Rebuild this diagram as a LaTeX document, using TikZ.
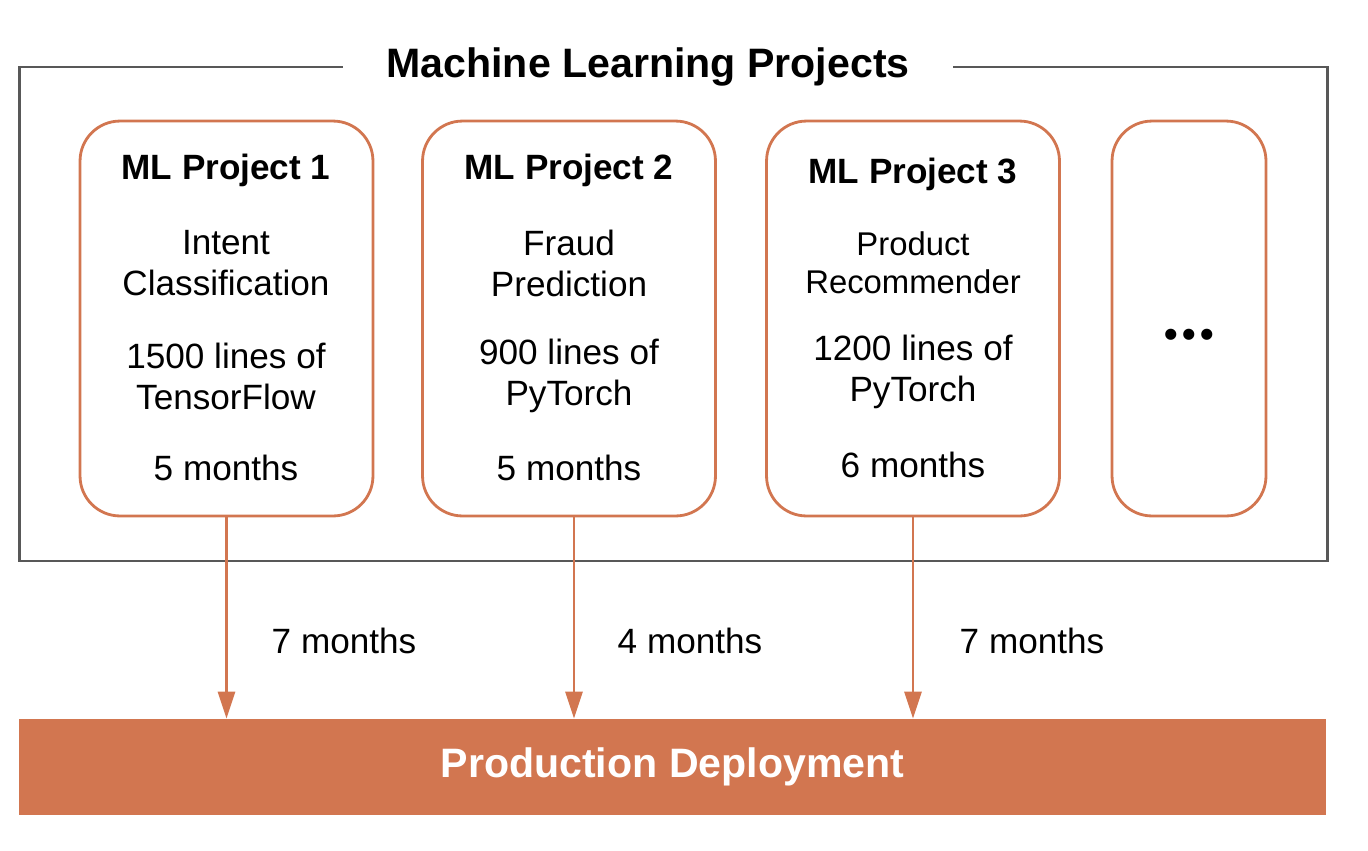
\documentclass[tikz,border=0pt]{standalone}
\usepackage{fontspec}
\setmainfont{Liberation Sans}
\usepackage{tikz}
\usetikzlibrary{arrows.meta, positioning, calc}
\definecolor{mlorange}{RGB}{210, 118, 80}
\definecolor{framegray}{RGB}{88, 88, 88}

\begin{document}
\begin{tikzpicture}[
    x=0.02cm, y=-0.02cm,
    proj/.style={rectangle, rounded corners=0.8cm, draw=mlorange, line width=1.6pt, minimum width=5.86cm, minimum height=7.9cm},
    head/.style={font=\fontsize{20}{24}\selectfont\bfseries},
    desc/.style={align=center, font=\fontsize{20}{23.3}\selectfont},
    arr/.style={-{Triangle[length=0.54cm, width=0.34cm]}, line width=1.6pt, draw=mlorange},
    every node/.style={inner sep=0pt}
]
\useasboundingbox (0,0) rectangle (1368,850);

% outer frame with its title
\node[draw=framegray, line width=1.6pt, minimum width=26.18cm, minimum height=9.88cm] (frame) at (673.5,314) {};
\node[fill=white, inner xsep=0.86cm, inner ysep=4pt, font=\fontsize{23.4}{28}\selectfont\bfseries] (title) at (648,67) {Machine Learning Projects};

% project boxes
\node[proj] (p1) at (226.5,318.5) {};
\node[proj] (p2) at (569,318.5) {};
\node[proj] (p3) at (913,318.5) {};
\node[proj, minimum width=3.08cm] (p4) at (1189,318.5) {};

\node[head] (h1) at (226,170) {ML Project 1};
\node[desc] (d1) at (226,263) {Intent\\Classification};
\node[desc] (c1) at (226,376) {1500 lines of\\TensorFlow};
\node[desc] (m1) at (226,468) {5 months};

\node[head] (h2) at (569,170) {ML Project 2};
\node[desc] (d2) at (569,263) {Fraud\\Prediction};
\node[desc] (c2) at (569,376) {900 lines of\\PyTorch};
\node[desc] (m2) at (569,468) {5 months};

\node[head] (h3) at (913,174) {ML Project 3};
\node[desc, font=\fontsize{18.7}{21.8}\selectfont] (d3) at (913,263) {Product\\Recommender};
\node[desc] (c3) at (913,372) {1200 lines of\\PyTorch};
\node[desc] (m3) at (913,465) {6 months};

\node[font=\fontsize{22}{26}\selectfont\bfseries] (more) at (1189,338) {•\kern2.5pt•\kern2.5pt•};

% deployment bar
\node[fill=mlorange, minimum width=26.14cm, minimum height=1.92cm, text=white, font=\fontsize{23.4}{28}\selectfont\bfseries] (deploy) at (672.5,767) {Production Deployment};

% time to production
\draw[arr] (p1.south) -- (p1.south |- deploy.north);
\draw[arr] ($(p2.south)+(5,0)$) coordinate (s2) -- (s2 |- deploy.north);
\draw[arr] (p3.south) -- (p3.south |- deploy.north);

\node[desc] (t1) at (344,641) {7 months};
\node[desc] (t2) at (690,641) {4 months};
\node[desc] (t3) at (1032,641) {7 months};

\end{tikzpicture}
\end{document}
